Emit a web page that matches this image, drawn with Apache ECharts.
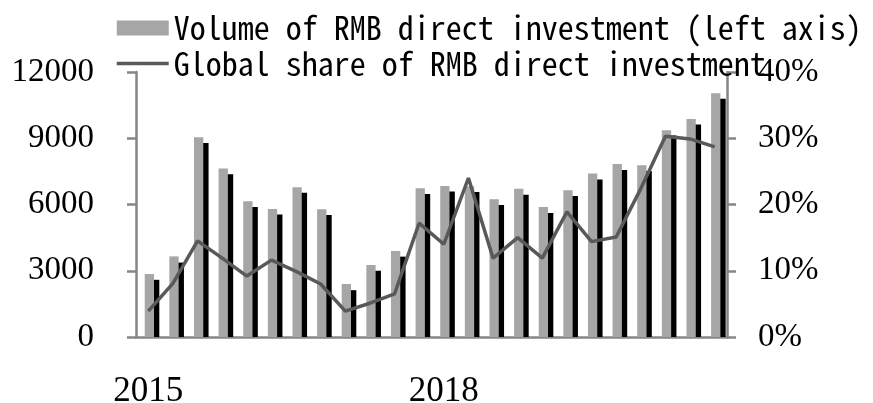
<!DOCTYPE html>
<html>
<head>
<meta charset="utf-8">
<script src="https://cdn.jsdelivr.net/npm/echarts@6/dist/echarts.min.js"></script>
<style>
  html, body { margin: 0; padding: 0; background: #fff; }
  #chart { width: 873px; height: 403px; }
</style>
</head>
<body>
<div id="chart"></div>
<script>
// quarterly, 2015Q1 - 2020Q4
var quarters = ['2015Q1', '2015Q2', '2015Q3', '2015Q4', '2016Q1', '2016Q2', '2016Q3', '2016Q4',
  '2017Q1', '2017Q2', '2017Q3', '2017Q4', '2018Q1', '2018Q2', '2018Q3', '2018Q4',
  '2019Q1', '2019Q2', '2019Q3', '2019Q4', '2020Q1', '2020Q2', '2020Q3', '2020Q4']
var volume = [2850, 3650, 9040, 7630, 6150, 5800, 6780, 5780, 2400, 3260, 3890, 6740,
  6840, 6830, 6240, 6710, 5890, 6650, 7400, 7830, 7780, 9360, 9870, 11040]
// the dark shadow bars drawn behind the grey ones
var shadowVol = [2590, 3370, 8780, 7370, 5890, 5550, 6530, 5520, 2120, 3000, 3640, 6480,
  6590, 6570, 5980, 6440, 5620, 6390, 7130, 7560, 7520, 9130, 9620, 10790]
var share = [3.9, 8.1, 14.5, 11.9, 9.2, 11.6, 9.9, 8.0, 3.9, 5.1, 6.5, 17.2,
  14.0, 24.0, 11.9, 15.0, 11.9, 18.9, 14.4, 15.1, 22.4, 30.3, 29.9, 28.7]
var volName = 'Volume of RMB direct investment (left axis)'
var shareName = 'Global share of RMB direct investment'

var axisGray = '#868686'
var serif = '"Liberation Serif", "Times New Roman", serif'
var mono = '"Noto Sans Mono CJK SC", "Liberation Mono", monospace'

var myChart = echarts.init(document.getElementById('chart'))
var option = {
  animation: false,
  legend: {
    data: [
      { name: volName, icon: 'rect' },
      { name: shareName, itemStyle: { opacity: 0 }, lineStyle: { width: 3.5 } }
    ],
    orient: 'vertical',
    left: 115,
    top: 12,
    padding: 0,
    itemWidth: 52,
    itemHeight: 15,
    itemGap: 3.5,
    textStyle: {
      color: '#000',
      fontSize: 32,
      fontWeight: 300,
      fontFamily: mono
    }
  },
  grid: {
    left: 136,
    right: 146,
    top: 72,
    bottom: 66,
    outerBoundsMode: 'none'
  },
  xAxis: {
    type: 'category',
    data: quarters,
    boundaryGap: true,
    axisLine: { lineStyle: { color: axisGray, width: 2.5 } },
    axisTick: { interval: 0, length: 10, lineStyle: { color: axisGray, width: 2.5 } },
    axisLabel: {
      interval: 11,
      margin: 37,
      color: '#000',
      fontSize: 35,
      fontFamily: serif,
      formatter: function(v) { return v.slice(0, 4) }
    },
    splitLine: { show: false }
  },
  yAxis: [
    {
      type: 'value',
      min: 0,
      max: 12000,
      interval: 3000,
      axisLine: { show: true, lineStyle: { color: axisGray, width: 2.5 } },
      axisTick: { show: true, length: 9, lineStyle: { color: axisGray, width: 2.5 } },
      axisLabel: {
        margin: 42,
        color: '#000',
        fontSize: 33,
        fontFamily: serif,
        formatter: function(v) { return String(v) }
      },
      splitLine: { show: false }
    },
    {
      type: 'value',
      position: 'right',
      min: 0,
      max: 40,
      interval: 10,
      axisLine: { show: true, lineStyle: { color: axisGray, width: 2.5 } },
      axisTick: { show: true, length: 9, lineStyle: { color: axisGray, width: 2.5 } },
      axisLabel: { margin: 31, color: '#000', fontSize: 33, fontFamily: serif, formatter: '{value}%' },
      splitLine: { show: false }
    }
  ],
  series: [
    {
      // empty spacer so the grey/black pair sits right of the category centre
      name: 'spacer',
      type: 'bar',
      data: [],
      barWidth: 13,
      barGap: '-43%',
      silent: true
    },
    {
      name: volName,
      type: 'bar',
      data: volume,
      barWidth: 9.3,
      barGap: '-43%',
      z: 3,
      itemStyle: { color: '#a6a6a6' }
    },
    {
      name: 'shadow',
      type: 'bar',
      data: shadowVol,
      barWidth: 9.3,
      barGap: '-43%',
      z: 2,
      itemStyle: { color: '#000' }
    },
    {
      name: shareName,
      type: 'line',
      yAxisIndex: 1,
      data: share,
      symbol: 'none',
      z: 5,
      lineStyle: { color: '#595959', width: 3.5 },
      itemStyle: { color: '#595959' }
    }
  ]
}
myChart.setOption(option)
</script>
</body>
</html>
